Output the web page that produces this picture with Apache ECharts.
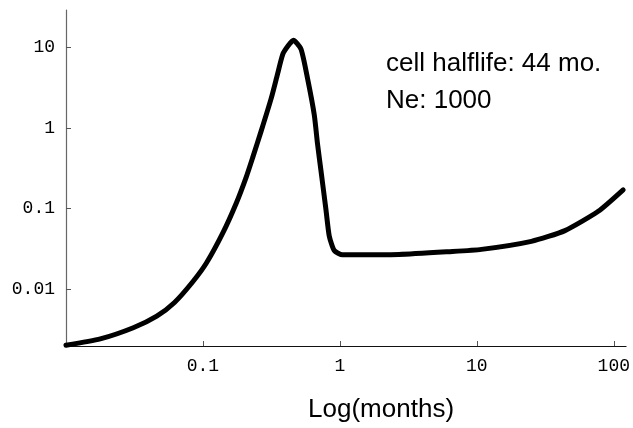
<!DOCTYPE html>
<html>
<head>
<meta charset="utf-8">
<style>html,body{margin:0;padding:0;background:#fff;}#c{width:633px;height:428px;}</style>
<script src="https://cdn.jsdelivr.net/npm/echarts@6/dist/echarts.min.js"></script>
</head>
<body>
<div id="c"></div>
<script>
const months = [0.01, 0.0178, 0.031, 0.046, 0.062, 0.084, 0.106, 0.14, 0.175, 0.207, 0.231, 0.266, 0.315, 0.35, 0.383, 0.42, 0.457, 0.52, 0.581, 0.65, 0.687, 0.727, 0.791, 0.836, 0.91, 1.045, 2.7, 6.2, 10.8, 25, 44, 77, 117];
const values = [0.002, 0.0024, 0.0033, 0.0046, 0.0068, 0.0122, 0.021, 0.05, 0.116, 0.245, 0.43, 0.91, 2.32, 4.6, 8.2, 10.5, 12.2, 9.5, 4.07, 1.45, 0.625, 0.296, 0.0964, 0.0456, 0.030, 0.0265, 0.0268, 0.029, 0.031, 0.039, 0.053, 0.092, 0.17];
const xTicks = [0.1, 1, 10, 100];
const yTicks = [0.01, 0.1, 1, 10];
const note = ['cell halflife: 44 mo.', 'Ne: 1000'];
const xTitle = 'Log(months)';

function fmt(v) {
  const e = Math.round(Math.log10(v));
  if (Math.abs(Math.log10(v) - e) > 1e-6) return '';
  return e < 0 ? Math.pow(10, e).toFixed(-e) : String(Math.pow(10, e));
}

const chart = echarts.init(document.getElementById('c'));
chart.setOption({
  animation: false,
  backgroundColor: '#fff',
  grid: {left: 66, right: 5, top: 10, bottom: 76, containLabel: false},
  xAxis: {
    type: 'log', logBase: 10, min: 0.01, max: 123,
    name: xTitle, nameLocation: 'middle', nameGap: 51,
    nameTextStyle: {fontFamily: 'Liberation Sans, Arial, sans-serif', fontSize: 26, color: '#000', padding: [0, 0, 0, 70]},
    axisLine: {lineStyle: {color: '#111', width: 1}},
    axisTick: {inside: true, length: 5, lineStyle: {color: '#555'}, customValues: xTicks},
    axisLabel: {margin: 11, fontFamily: 'Liberation Mono, Courier New, monospace', fontSize: 18, color: '#000', customValues: xTicks, formatter: fmt},
    splitLine: {show: false}, minorTick: {show: false}
  },
  yAxis: {
    type: 'log', logBase: 10, min: 0.00196, max: 29,
    axisLine: {show: true, lineStyle: {color: '#666', width: 1.2}},
    axisTick: {show: true, inside: true, length: 5, lineStyle: {color: '#555'}, customValues: yTicks},
    axisLabel: {margin: 11, fontFamily: 'Liberation Mono, Courier New, monospace', fontSize: 18, color: '#000', customValues: yTicks, formatter: fmt},
    splitLine: {show: false}
  },
  graphic: [{
    type: 'text', left: 386, top: 45,
    style: {text: note.join('\n'), fontFamily: 'Liberation Sans, Arial, sans-serif', fontSize: 26, lineHeight: 37, fill: '#000'}
  }],
  series: [{
    type: 'line', smooth: 0.2, showSymbol: false,
    data: months.map((m, i) => [m, values[i]]),
    lineStyle: {color: '#000', width: 5, cap: 'round', join: 'round'}
  }]
});
</script>
</body>
</html>
